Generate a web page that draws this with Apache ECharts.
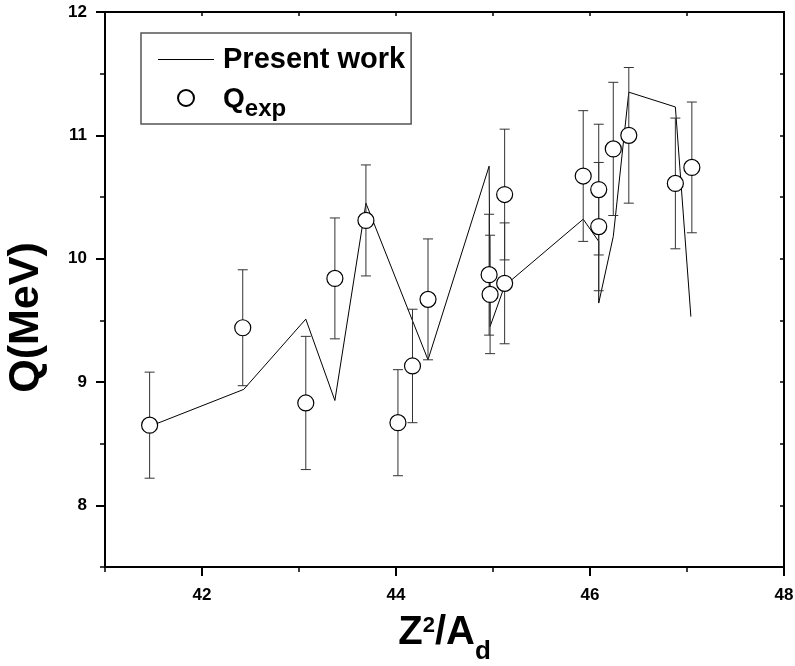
<!DOCTYPE html>
<html>
<head>
<meta charset="utf-8">
<script src="https://cdn.jsdelivr.net/npm/echarts@6/dist/echarts.min.js"></script>
<style>
html,body{margin:0;padding:0;background:#fff;}
#chart{width:795px;height:666px;}
</style>
</head>
<body>
<div id="chart"></div>
<script>
// Theoretical curve ("Present work")
const theoryX = [41.46, 42.43, 43.07, 43.37, 43.69, 44.33, 44.96, 44.97, 45.12, 45.93, 46.09, 46.09, 46.24, 46.40, 46.88, 47.04];
const theoryY = [8.64, 8.94, 9.51, 8.85, 10.45, 9.18, 10.75, 9.45, 9.78, 10.32, 10.14, 9.64, 10.18, 11.35, 11.23, 9.53];
// Experimental points (Q_exp) and their errors
const expX = [41.46, 42.42, 43.07, 43.37, 43.69, 44.02, 44.17, 44.33, 44.96, 44.97, 45.12, 45.12, 45.93, 46.09, 46.09, 46.24, 46.40, 46.88, 47.05];
const expY = [8.65, 9.44, 8.83, 9.84, 10.31, 8.67, 9.13, 9.67, 9.87, 9.71, 10.52, 9.80, 10.67, 10.56, 10.26, 10.89, 11.00, 10.61, 10.74];
const expErr = [0.43, 0.47, 0.54, 0.49, 0.45, 0.43, 0.46, 0.49, 0.49, 0.48, 0.53, 0.49, 0.53, 0.53, 0.52, 0.54, 0.55, 0.53, 0.53];
// Tick labels
const xMajorTicks = [42, 44, 46, 48];
const xMinorTicks = [41, 43, 45, 47];
const yMajorTicks = [8, 9, 10, 11, 12];
const yMinorTicks = [7.5, 8.5, 9.5, 10.5, 11.5];

const FONT = 'Liberation Sans, Arial, Helvetica, sans-serif';
const chart = echarts.init(document.getElementById('chart'), null, {renderer: 'canvas'});

const lineData = theoryX.map((x, i) => [x, theoryY[i]]);
const scatterData = expX.map((x, i) => [x, expY[i]]);
const errData = expX.map((x, i) => [x, expY[i], expErr[i]]);

const axisLineStyle = {show: true, lineStyle: {color: '#000', width: 2}};

const option = {
  animation: false,
  backgroundColor: '#fff',
  grid: {left: 105, right: 11, top: 12, bottom: 99, containLabel: false, outerBoundsMode: 'none'},
  legend: {
    orient: 'vertical',
    left: 141, top: 33,
    padding: [12, 6, 3, 17],
    itemGap: 9,
    itemWidth: 56, itemHeight: 16,
    borderColor: '#555', borderWidth: 1.5,
    selectedMode: false,
    symbolKeepAspect: true,
    data: [
      {name: 'Present work', icon: 'path://M0,0H100V1.8H0Z'},
      {name: 'Qexp'}
    ],
    formatter: function (name) {
      return name === 'Qexp' ? '{q|Q}{s|exp}' : '{p|' + name + '}';
    },
    textStyle: {
      fontFamily: FONT, fontWeight: 'bold', fontSize: 29, color: '#000',
      rich: {
        p: {fontFamily: FONT, fontWeight: 'bold', fontSize: 29, lineHeight: 32, color: '#000', padding: [0, 0, 0, 4]},
        q: {fontFamily: FONT, fontWeight: 'bold', fontSize: 28, lineHeight: 30, color: '#000', verticalAlign: 'top', padding: [2, 0, 0, 4]},
        s: {fontFamily: FONT, fontWeight: 'bold', fontSize: 24, lineHeight: 24, color: '#000', verticalAlign: 'top', padding: [14, 0, 0, 0]}
      }
    }
  },
  xAxis: [
    {
      type: 'value', position: 'bottom', min: 41, max: 48,
      axisLine: axisLineStyle,
      axisTick: {show: true, inside: false, length: 9, lineStyle: {color: '#000', width: 2}, customValues: xMajorTicks},
      axisLabel: {show: true, customValues: xMajorTicks, margin: 20, fontFamily: FONT, fontWeight: 'bold', fontSize: 17, color: '#000'},
      splitLine: {show: false},
      name: '{m|Z}{sup|2}{m|/A}{sub|d}',
      nameLocation: 'middle', nameGap: 46,
      nameTextStyle: {
        rich: {
          m: {fontFamily: FONT, fontWeight: 'bold', fontSize: 40, lineHeight: 44, verticalAlign: 'top', color: '#000'},
          sup: {fontFamily: FONT, fontWeight: 'bold', fontSize: 22, lineHeight: 22, verticalAlign: 'top', color: '#000', padding: [2, 0, 0, 0]},
          sub: {fontFamily: FONT, fontWeight: 'bold', fontSize: 26, lineHeight: 26, verticalAlign: 'top', color: '#000', padding: [26, 0, 0, 0]}
        }
      }
    },
    {
      type: 'value', position: 'bottom', min: 41, max: 48,
      axisLine: {show: false},
      axisTick: {show: true, inside: false, length: 5, lineStyle: {color: '#000', width: 1.5}, customValues: xMinorTicks},
      axisLabel: {show: false},
      splitLine: {show: false}
    },
    {
      type: 'value', position: 'top', min: 41, max: 48, interval: 1,
      axisLine: axisLineStyle,
      axisTick: {show: true, inside: true, length: 4, lineStyle: {color: '#000', width: 1.5}},
      axisLabel: {show: false},
      splitLine: {show: false}
    }
  ],
  yAxis: [
    {
      type: 'value', position: 'left', min: 7.5, max: 12,
      axisLine: axisLineStyle,
      axisTick: {show: true, inside: false, length: 9, lineStyle: {color: '#000', width: 2}, customValues: yMajorTicks},
      axisLabel: {show: true, customValues: yMajorTicks, margin: 18, fontFamily: FONT, fontWeight: 'bold', fontSize: 17, color: '#000'},
      splitLine: {show: false},
      name: 'Q(MeV)', nameLocation: 'middle', nameGap: 57,
      nameTextStyle: {fontFamily: FONT, fontWeight: 'bold', fontSize: 43, color: '#000', padding: [0, 56, 0, 0]}
    },
    {
      type: 'value', position: 'left', min: 7.5, max: 12,
      axisLine: {show: false},
      axisTick: {show: true, inside: false, length: 5, lineStyle: {color: '#000', width: 1.5}, customValues: yMinorTicks},
      axisLabel: {show: false},
      splitLine: {show: false}
    },
    {
      type: 'value', position: 'right', min: 7.5, max: 12, interval: 0.5,
      axisLine: axisLineStyle,
      axisTick: {show: true, inside: true, length: 4, lineStyle: {color: '#000', width: 1.5}},
      axisLabel: {show: false},
      splitLine: {show: false}
    }
  ],
  series: [
    {
      name: 'Present work', type: 'line', xAxisIndex: 0, yAxisIndex: 0,
      data: lineData, symbol: 'none', showSymbol: false,
      lineStyle: {color: '#000', width: 1},
      itemStyle: {color: '#000'},
      z: 2
    },
    {
      name: 'errorbars', type: 'custom', xAxisIndex: 0, yAxisIndex: 0,
      data: errData,
      encode: {x: 0, y: 1},
      renderItem: function (params, api) {
        const x = api.value(0), y = api.value(1), e = api.value(2);
        const top = api.coord([x, y + e]);
        const bot = api.coord([x, y - e]);
        const hw = 5;
        const st = {stroke: '#333', lineWidth: 1};
        return {
          type: 'group',
          children: [
            {type: 'line', shape: {x1: top[0], y1: top[1], x2: bot[0], y2: bot[1]}, style: st},
            {type: 'line', shape: {x1: top[0] - hw, y1: top[1], x2: top[0] + hw, y2: top[1]}, style: st},
            {type: 'line', shape: {x1: bot[0] - hw, y1: bot[1], x2: bot[0] + hw, y2: bot[1]}, style: st}
          ]
        };
      },
      z: 3
    },
    {
      name: 'Qexp', type: 'scatter', xAxisIndex: 0, yAxisIndex: 0,
      data: scatterData, symbol: 'circle', symbolSize: 16,
      itemStyle: {color: '#fff', borderColor: '#000', borderWidth: 1.2, opacity: 1},
      z: 5
    }
  ]
};
chart.setOption(option);
</script>
</body>
</html>
